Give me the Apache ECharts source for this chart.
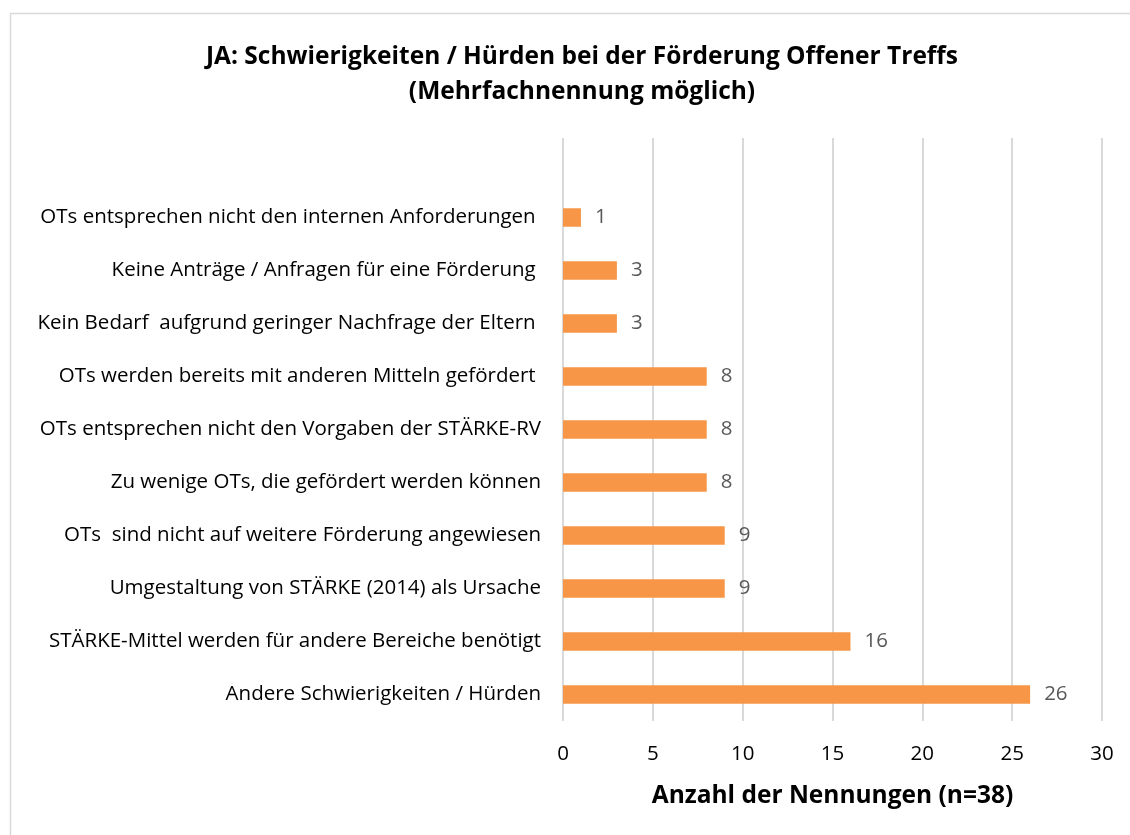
<!DOCTYPE html>
<html>
<head>
<meta charset="utf-8">
<script src="https://cdn.jsdelivr.net/npm/echarts@6/dist/echarts.min.js"></script>
<style>
  html, body { margin: 0; padding: 0; background: #fff; }
  #chart { width: 1130px; height: 835px; }
</style>
</head>
<body>
<div id="chart"></div>
<script>
// Categories listed bottom-to-top (ECharts category axis order); the last one is an empty spacer row
const categories = [
  'Andere Schwierigkeiten / Hürden',
  'STÄRKE-Mittel werden für andere Bereiche benötigt',
  'Umgestaltung von STÄRKE (2014) als Ursache',
  'OTs  sind nicht auf weitere Förderung angewiesen',
  'Zu wenige OTs, die gefördert werden können',
  'OTs entsprechen nicht den Vorgaben der STÄRKE-RV',
  'OTs werden bereits mit anderen Mitteln gefördert ',
  'Kein Bedarf  aufgrund geringer Nachfrage der Eltern ',
  'Keine Anträge / Anfragen für eine Förderung ',
  'OTs entsprechen nicht den internen Anforderungen ',
  ''
];
const counts = [26, 16, 9, 9, 8, 8, 8, 3, 3, 1, null];
const xTicks = [0, 5, 10, 15, 20, 25, 30];

const titleText = 'JA: Schwierigkeiten / Hürden bei der Förderung Offener Treffs\n(Mehrfachnennung möglich)';
const xName = 'Anzahl der Nennungen (n=38)';

const FONT = '"Open Sans", sans-serif';
const chart = echarts.init(document.getElementById('chart'));

chart.setOption({
  animation: false,
  backgroundColor: '#ffffff',
  graphic: [{
    type: 'rect',
    shape: { x: 10.5, y: 13.5, width: 1130, height: 830 },
    style: { fill: 'none', stroke: '#d9d9d9', lineWidth: 1.5 },
    silent: true
  }],
  title: {
    text: titleText,
    left: 577,
    textAlign: 'center',
    top: 35,
    textStyle: {
      fontFamily: FONT,
      fontSize: 24.5,
      fontWeight: 'bold',
      color: '#000000',
      lineHeight: 35
    }
  },
  grid: {
    left: 563,
    right: 28,
    top: 138,
    bottom: 114,
    containLabel: false
  },
  xAxis: {
    type: 'value',
    min: xTicks[0],
    max: xTicks[xTicks.length - 1],
    interval: 5,
    name: xName,
    nameLocation: 'middle',
    nameGap: 63,
    nameTextStyle: {
      fontFamily: FONT,
      fontSize: 24.5,
      fontWeight: 'bold',
      color: '#000000'
    },
    axisLine: { show: false },
    axisTick: { show: false },
    axisLabel: {
      margin: 23,
      fontFamily: FONT,
      fontSize: 20.5,
      color: '#000000'
    },
    splitLine: { show: true, lineStyle: { color: '#d9d9d9', width: 2 } }
  },
  yAxis: {
    type: 'category',
    data: categories,
    axisLine: { show: false },
    axisTick: { show: false },
    axisLabel: {
      margin: 22,
      fontFamily: FONT,
      fontSize: 20.5,
      color: '#000000'
    },
    splitLine: { show: false }
  },
  series: [{
    type: 'bar',
    data: counts,
    barWidth: 18.5,
    itemStyle: { color: '#F79646' },
    label: {
      show: true,
      position: 'right',
      distance: 14,
      fontFamily: FONT,
      fontSize: 20.5,
      color: '#595959'
    }
  }]
});
</script>
</body>
</html>
